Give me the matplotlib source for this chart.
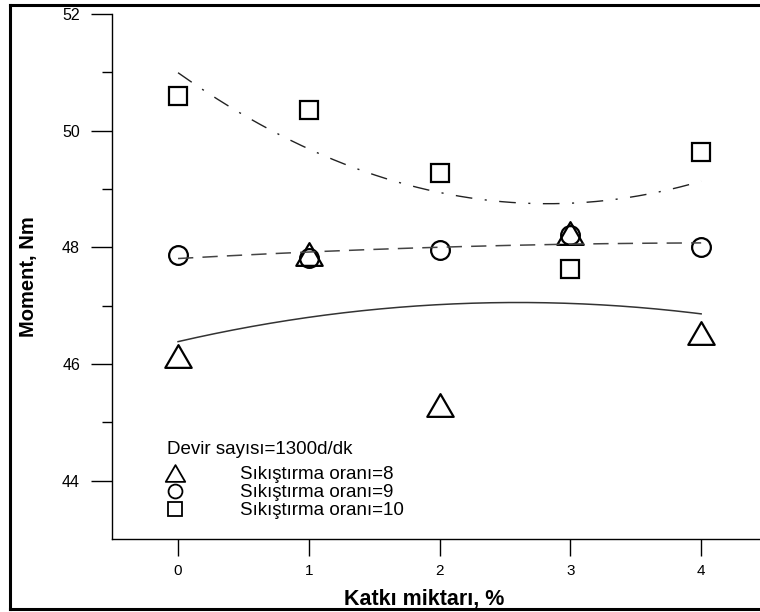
import numpy as np
import matplotlib
matplotlib.use("Agg")
import matplotlib.pyplot as plt
from matplotlib.lines import Line2D
from matplotlib.path import Path

plt.rcParams['font.family'] = ['Liberation Sans', 'DejaVu Sans']

# Additive amount (%) and measured torque for three compression ratios
katki = [0, 1, 2, 3, 4]
moment_cr8 = [46.13, 47.88, 45.30, 48.25, 46.54]
moment_cr9 = [47.87, 47.81, 47.96, 48.22, 48.00]
moment_cr10 = [50.60, 50.36, 49.28, 47.63, 49.64]

series_labels = ["Sıkıştırma oranı=8", "Sıkıştırma oranı=9", "Sıkıştırma oranı=10"]
legend_title = "Devir sayısı=1300d/dk"
x_ticks = [0, 1, 2, 3, 4]
y_ticks = [44, 46, 48, 50, 52]

W, H = 760, 612
fig = plt.figure(figsize=(W / 100, H / 100), dpi=100)

# axes box in pixel terms
ax_l, ax_r, ax_t, ax_b = 112, 760, 14, 539
ax = fig.add_axes([ax_l / W, 1 - ax_b / H, (ax_r - ax_l) / W, (ax_b - ax_t) / H])


def ax_frac(px, py):
    """pixel position (from top-left of the figure) -> axes fraction"""
    return (px - ax_l) / (ax_r - ax_l), (ax_b - py) / (ax_b - ax_t)


tri = Path([(0, 0.62), (-0.72, -0.62), (0.72, -0.62), (0, 0.62)],
           [Path.MOVETO, Path.LINETO, Path.LINETO, Path.CLOSEPOLY])

mk = dict(linestyle='none', markerfacecolor='none', markeredgecolor='black', markeredgewidth=1.6)
ax.plot(katki, moment_cr8, marker=tri, markersize=19, **mk)
ax.plot(katki, moment_cr9, marker='o', markersize=13.5, **mk)
ax.plot(katki, moment_cr10, marker='s', markersize=12.5, **mk)

# second-order regression curves
xf = np.linspace(min(katki), max(katki), 200)
fit_styles = [
    dict(linestyle='-', color='#333333', linewidth=1.1),
    dict(linestyle=(0, (10, 6)), color='#444444', linewidth=1.1),
    dict(linestyle=(0, (12, 9, 1.5, 9)), color='#222222', linewidth=1.0),
]
for ys, st in zip([moment_cr8, moment_cr9, moment_cr10], fit_styles):
    c = np.polyfit(katki, ys, 2)
    ax.plot(xf, np.polyval(c, xf), **st)

ax.set_xlim(-0.505, 4.45)
ax.set_ylim(43, 52)
ax.set_xticks(x_ticks)
ax.set_yticks(y_ticks)
ax.set_yticks([45, 47, 49, 51], minor=True)
ax.tick_params(axis='y', which='major', length=15, width=1, pad=8, labelsize=11.5, direction='out')
ax.tick_params(axis='y', which='minor', length=7.5, width=1, direction='out')
ax.tick_params(axis='x', which='major', length=12, width=1, pad=6, labelsize=11, direction='out')
for s in ['top', 'right']:
    ax.spines[s].set_visible(False)
for s in ['left', 'bottom']:
    ax.spines[s].set_linewidth(1)

ax.set_xlabel("Katkı miktarı, %", fontsize=15.5, fontweight='bold')
ax.set_ylabel("Moment, Nm", fontsize=14.5, fontweight='bold')
ax.xaxis.set_label_coords(*ax_frac(424, 589))
ax.yaxis.set_label_coords(ax_frac(38, 0)[0], 0.5)

# legend header and entries
leg_fs = 13.5
ax.text(*ax_frac(167, 449), legend_title, transform=ax.transAxes,
        ha='left', va='center', fontsize=leg_fs)
handles = [
    Line2D([], [], marker=tri, markersize=14, **mk),
    Line2D([], [], marker='o', markersize=10, **mk),
    Line2D([], [], marker='s', markersize=9.5, **mk),
]
for h in handles:
    h.set_markeredgewidth(1.3)
leg = ax.legend(handles, series_labels, loc='upper left',
                bbox_to_anchor=ax_frac(165.5, 466),
                frameon=False, fontsize=leg_fs,
                handlelength=1.0, handletextpad=3.0, labelspacing=0.05,
                borderpad=0, borderaxespad=0)

# outer frame (left, top, bottom edges)
fx0, fy0, fy1 = 10 / W, 1 - 609 / H, 1 - 5 / H
frame_kw = dict(color='black', linewidth=2.2, transform=fig.transFigure, clip_on=False)
fig.add_artist(Line2D([fx0, fx0], [fy0, fy1], **frame_kw))
fig.add_artist(Line2D([fx0, 1.0], [fy1, fy1], **frame_kw))
fig.add_artist(Line2D([fx0, 1.0], [fy0, fy0], **frame_kw))

fig.savefig("out.png", dpi=100)
